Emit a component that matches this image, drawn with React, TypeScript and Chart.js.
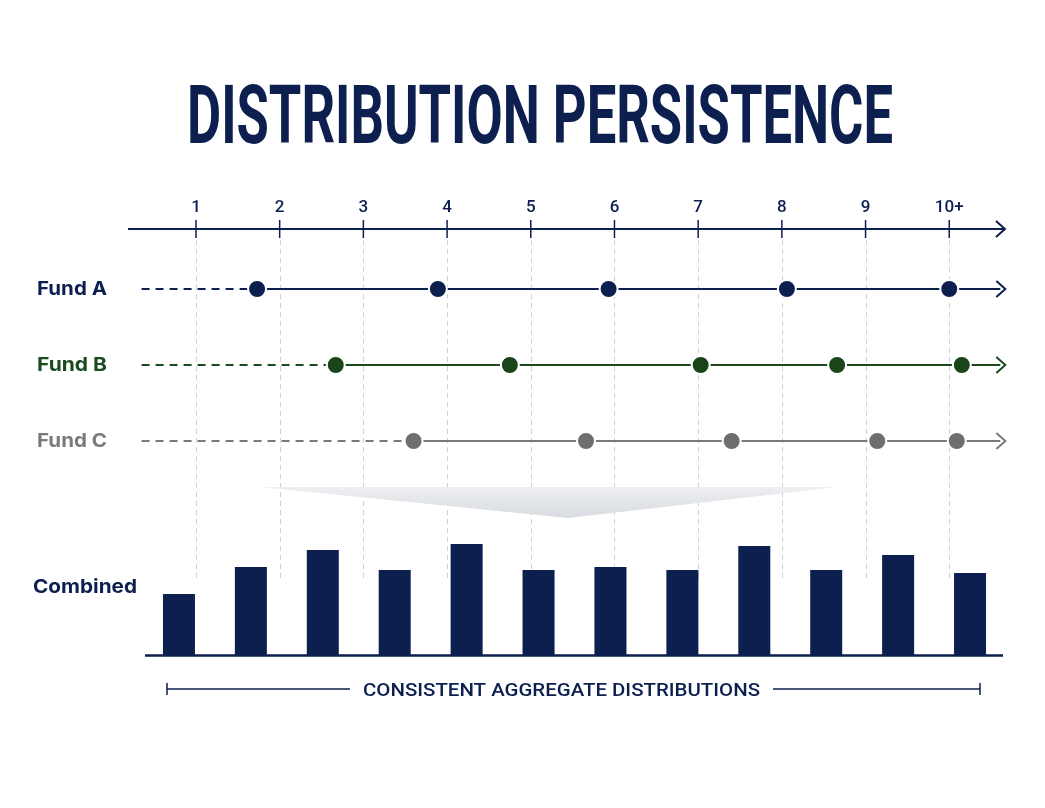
import React, { useEffect, useRef } from 'react';
import { Chart, registerables } from 'chart.js';

Chart.register(...registerables);

// top axis ticks (distribution number)
const tickValues = [1, 2, 3, 4, 5, 6, 7, 8, 9, 10];
const tickLabels = ['1', '2', '3', '4', '5', '6', '7', '8', '9', '10+'];

// fund rows and the positions of their distributions on the axis
const fundNames = ['Fund A', 'Fund B', 'Fund C'];
const fundRows = [1, 2, 3];
const fundColors = ['#0c1f4f', '#1c4a1f', '#7a7a7a'];
const fundDotColors = ['#0c1f4f', '#1a4519', '#6e6e6e'];
const fundA = [1.73, 3.89, 5.93, 8.06, 10.0];
const fundB = [2.67, 4.75, 7.03, 8.66, 10.15];
const fundC = [3.6, 5.66, 7.4, 9.14, 10.09];
const dashStart = 0.35;
const arrowEnd = 10.67;

// combined bars
const periods = ['1', '2', '3', '4', '5', '6', '7', '8', '9', '10', '11', '12'];
const combined = [6.1, 8.8, 10.5, 8.5, 11.1, 8.5, 8.8, 8.5, 10.9, 8.5, 10.0, 8.2];

const NAVY = '#0c1f4f';

const fitText = (ctx: CanvasRenderingContext2D, text: string, x: number, y: number, width: number, font: string, align: 'left' | 'center' = 'left') => {
  ctx.save();
  ctx.font = font;
  const w = ctx.measureText(text).width;
  const sx = width / w;
  ctx.translate(align === 'center' ? x - width / 2 : x, y);
  ctx.scale(sx, 1);
  ctx.textAlign = 'left';
  ctx.fillText(text, 0, 0);
  ctx.restore();
};

const chevron = (ctx: CanvasRenderingContext2D, x: number, y: number, color: string) => {
  ctx.save();
  ctx.strokeStyle = color;
  ctx.lineWidth = 2;
  ctx.lineJoin = 'miter';
  ctx.beginPath();
  ctx.moveTo(x - 9, y - 8);
  ctx.lineTo(x, y);
  ctx.lineTo(x - 9, y + 8);
  ctx.stroke();
  ctx.restore();
};

const decorPlugin = {
  id: 'decor',
  beforeDatasetsDraw(chart: any) {
    const ctx = chart.ctx as CanvasRenderingContext2D;
    const xs = chart.scales.x;
    const ys = chart.scales.yRow;
    ctx.save();

    // title
    ctx.fillStyle = NAVY;
    ctx.textBaseline = 'alphabetic';
    fitText(ctx, 'DISTRIBUTION PERSISTENCE', 187, 143, 706, '700 82px Roboto');

    // dashed guides
    ctx.strokeStyle = '#cfd1d4';
    ctx.lineWidth = 1;
    ctx.setLineDash([5, 4]);
    tickValues.forEach(v => {
      const px = Math.round(xs.getPixelForValue(v)) + 0.5;
      ctx.beginPath();
      ctx.moveTo(px, 240);
      ctx.lineTo(px, 578);
      ctx.stroke();
    });
    ctx.setLineDash([]);

    // top axis
    const axisY = 229;
    ctx.strokeStyle = NAVY;
    ctx.lineWidth = 2;
    ctx.beginPath();
    ctx.moveTo(128, axisY);
    ctx.lineTo(1004, axisY);
    ctx.stroke();
    chevron(ctx, 1005, axisY, NAVY);
    ctx.lineWidth = 1.5;
    ctx.font = '500 17px Roboto';
    ctx.textAlign = 'center';
    ctx.fillStyle = NAVY;
    tickValues.forEach((v, i) => {
      const px = xs.getPixelForValue(v);
      ctx.beginPath();
      ctx.moveTo(px, axisY - 9);
      ctx.lineTo(px, axisY + 9);
      ctx.stroke();
      ctx.fillText(tickLabels[i], px, 212);
    });

    // row labels
    ctx.textBaseline = 'middle';
    fundNames.forEach((name, i) => {
      ctx.fillStyle = fundColors[i];
      fitText(ctx, name, 37, ys.getPixelForValue(fundRows[i]), 70, '700 19px Inter');
    });
    ctx.fillStyle = NAVY;
    fitText(ctx, 'Combined', 33, 587, 104, '700 19px Inter');

    // funnel
    const grad = ctx.createLinearGradient(0, 487, 0, 518);
    grad.addColorStop(0, 'rgba(236,238,241,0.95)');
    grad.addColorStop(1, 'rgba(214,217,222,0.95)');
    ctx.fillStyle = grad;
    ctx.beginPath();
    ctx.moveTo(260, 487);
    ctx.lineTo(838, 487);
    ctx.lineTo(568, 518);
    ctx.closePath();
    ctx.fill();

    ctx.restore();
  },
  afterDatasetsDraw(chart: any) {
    const ctx = chart.ctx as CanvasRenderingContext2D;
    const xs = chart.scales.x;
    const ys = chart.scales.yRow;
    ctx.save();

    // row arrowheads
    fundRows.forEach((r, i) => {
      chevron(ctx, xs.getPixelForValue(arrowEnd), ys.getPixelForValue(r), fundColors[i]);
    });

    // bar baseline
    const base = chart.scales.yBar.getPixelForValue(0);
    ctx.strokeStyle = NAVY;
    ctx.lineWidth = 2.5;
    ctx.beginPath();
    ctx.moveTo(145, base + 0.5);
    ctx.lineTo(1003, base + 0.5);
    ctx.stroke();

    // bracket
    const by = 689;
    ctx.lineWidth = 1.5;
    ctx.beginPath();
    ctx.moveTo(167, by);
    ctx.lineTo(350, by);
    ctx.moveTo(773, by);
    ctx.lineTo(980, by);
    ctx.moveTo(167, by - 6);
    ctx.lineTo(167, by + 6);
    ctx.moveTo(980, by - 6);
    ctx.lineTo(980, by + 6);
    ctx.stroke();
    ctx.fillStyle = NAVY;
    ctx.textBaseline = 'alphabetic';
    fitText(ctx, 'CONSISTENT AGGREGATE DISTRIBUTIONS', 561.5, 696, 397, '500 19px Roboto', 'center');

    ctx.restore();
  },
};

const App: React.FC = () => {
  const chartRef = useRef<HTMLCanvasElement>(null);
  const chartInstanceRef = useRef<Chart | null>(null);

  useEffect(() => {
    if (!chartRef.current) return;
    document.body.style.margin = '0';
    document.body.style.background = '#ffffff';

    if (chartInstanceRef.current) {
      chartInstanceRef.current.destroy();
    }

    const funds = [fundA, fundB, fundC];
    const lineSets: any[] = [];
    funds.forEach((dots, i) => {
      const r = fundRows[i];
      lineSets.push({
        type: 'line',
        label: fundNames[i],
        xAxisID: 'x',
        yAxisID: 'yRow',
        data: [...dots.map(v => ({ x: v, y: r })), { x: arrowEnd - 0.06, y: r }],
        borderColor: fundColors[i],
        borderWidth: 2,
        pointRadius: dots.map(() => 9).concat([0]),
        pointBackgroundColor: fundDotColors[i],
        pointBorderColor: '#ffffff',
        pointBorderWidth: 2,
        clip: false,
        order: 1,
      });
      lineSets.push({
        type: 'line',
        label: fundNames[i] + ' lead',
        xAxisID: 'x',
        yAxisID: 'yRow',
        data: [{ x: dashStart, y: r }, { x: dots[0], y: r }],
        borderColor: fundColors[i],
        borderWidth: 2,
        borderDash: [8, 6],
        pointRadius: 0,
        clip: false,
        order: 2,
      });
    });

    chartInstanceRef.current = new Chart(chartRef.current, {
      type: 'line',
      data: {
        labels: periods,
        datasets: [
          ...lineSets,
          {
            type: 'bar',
            label: 'Combined',
            xAxisID: 'xBar',
            yAxisID: 'yBar',
            data: combined,
            backgroundColor: NAVY,
            barPercentage: 0.445,
            categoryPercentage: 1,
            grouped: false,
            order: 3,
          },
        ],
      },
      options: {
        responsive: false,
        animation: false,
        layout: { padding: { top: 229, bottom: 153, left: 143, right: 39 } },
        plugins: { legend: { display: false }, tooltip: { enabled: false } },
        scales: {
          x: { type: 'linear', display: false, offset: false, min: 0.367, max: 10.678 },
          xBar: { type: 'category', display: false, offset: true, labels: periods },
          yRow: { type: 'linear', display: false, reverse: true, min: 0.2105, max: 5.816 },
          yBar: { type: 'linear', display: false, min: 0, max: 42.6 },
        },
      },
      plugins: [decorPlugin],
    } as any);

    return () => {
      if (chartInstanceRef.current) {
        chartInstanceRef.current.destroy();
        chartInstanceRef.current = null;
      }
    };
  }, []);

  return (
    <div style={{ width: 1045, height: 808, background: '#ffffff' }}>
      <canvas ref={chartRef} width={1045} height={808}></canvas>
    </div>
  );
};

export default App;
